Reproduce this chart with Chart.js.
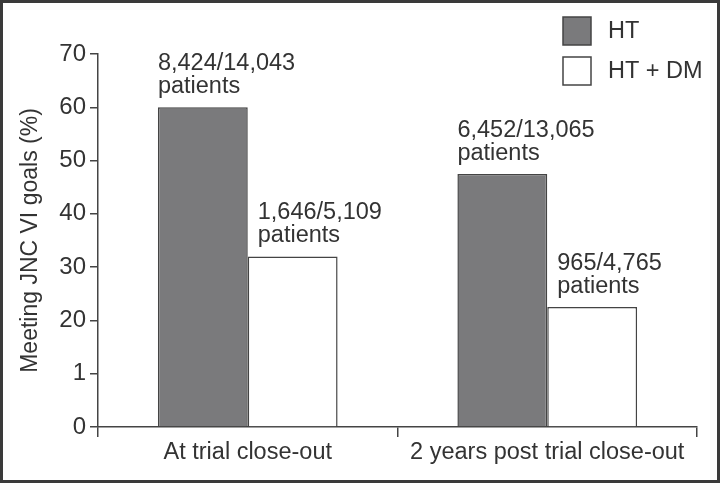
<!DOCTYPE html>
<html>
<head>
<meta charset="utf-8">
<script src="https://cdn.jsdelivr.net/npm/chart.js"></script>
<style>
  html, body { margin: 0; padding: 0; background: #fff; }
  #wrap { width: 720px; height: 483px; position: relative; }
</style>
</head>
<body>
<div id="wrap"><canvas id="myChart" width="720" height="483"></canvas></div>
<script>
// chart data
var categories = ["At trial close-out", "2 years post trial close-out"];
var seriesNames = ["HT", "HT + DM"];
var htValues = [60, 47.5];
var htdmValues = [32, 22.5];
var htLabels = ["8,424/14,043", "6,452/13,065"];
var htdmLabels = ["1,646/5,109", "965/4,765"];
var yTickLabels = ["0", "1", "20", "30", "40", "50", "60", "70"];

var FONT = "'Liberation Sans', Arial, Helvetica, sans-serif";
var textColor = "#333333";
var greyFill = "#7a7a7c";
var lineColor = "#444";

// frame, legend and bar notes
var extrasPlugin = {
  id: "extras",
  beforeDraw: function (chart) {
    var ctx = chart.ctx;
    ctx.save();
    ctx.fillStyle = "#fff";
    ctx.fillRect(0, 0, chart.width, chart.height);
    ctx.restore();
  },
  afterDraw: function (chart) {
    var ctx = chart.ctx;
    ctx.save();

    // labels above bars
    ctx.font = "23.5px " + FONT;
    ctx.fillStyle = textColor;
    ctx.textAlign = "left";
    ctx.textBaseline = "alphabetic";
    var noteSets = [htLabels, htdmLabels];
    var indents = [0, 10];
    chart.data.datasets.forEach(function (ds, di) {
      var meta = chart.getDatasetMeta(di);
      meta.data.forEach(function (bar, i) {
        var x = bar.x - bar.width / 2 + indents[di];
        var base = bar.y - 14;
        ctx.fillText("patients", x, base);
        ctx.fillText(noteSets[di][i], x, base - 23);
      });
    });

    // legend
    var lx = 563, ly = 17, box = 28;
    chart.data.datasets.forEach(function (ds, di) {
      var y = ly + di * 40;
      ctx.fillStyle = ds.backgroundColor;
      ctx.fillRect(lx, y, box, box);
      ctx.lineWidth = 1.5;
      ctx.strokeStyle = lineColor;
      ctx.strokeRect(lx, y, box, box);
      ctx.fillStyle = textColor;
      ctx.textBaseline = "middle";
      ctx.fillText(ds.label, lx + 45, y + box / 2 + 1);
    });

    // outer frame
    ctx.lineWidth = 4;
    ctx.strokeStyle = "#3a3a3a";
    ctx.strokeRect(1, 1, chart.width - 2, chart.height - 2);
    ctx.restore();
  }
};

new Chart("myChart", {
  type: "bar",
  data: {
    labels: categories,
    datasets: [{
      label: seriesNames[0],
      data: htValues,
      backgroundColor: greyFill,
      borderColor: lineColor,
      borderWidth: 1.5,
      categoryPercentage: 0.6,
      barPercentage: 1.0
    }, {
      label: seriesNames[1],
      data: htdmValues,
      backgroundColor: "#ffffff",
      borderColor: lineColor,
      borderWidth: 1.5,
      categoryPercentage: 0.6,
      barPercentage: 1.0
    }]
  },
  options: {
    responsive: false,
    animation: false,
    layout: { padding: { top: 54, right: 23, left: 0, bottom: 0 } },
    plugins: {
      legend: { display: false },
      tooltip: { enabled: false }
    },
    scales: {
      x: {
        afterFit: function (scale) { scale.height = 56; },
        grid: { drawOnChartArea: false, offset: true, tickLength: 10, color: lineColor, lineWidth: 1.5 },
        border: { color: lineColor, width: 1.5 },
        ticks: { color: textColor, font: { family: FONT, size: 23.5 }, padding: 1, maxRotation: 0 }
      },
      y: {
        min: 0,
        max: 70,
        afterFit: function (scale) { scale.width = 98; },
        grid: { drawOnChartArea: false, tickLength: 8, color: lineColor, lineWidth: 1.5 },
        border: { color: lineColor, width: 1.5 },
        ticks: {
          stepSize: 10,
          color: textColor,
          font: { family: FONT, size: 24 },
          padding: 4,
          callback: function (value, index) { return yTickLabels[index]; }
        },
        title: {
          display: true,
          text: "Meeting JNC VI goals (%)",
          color: textColor,
          font: { family: FONT, size: 23 },
          padding: { top: 17, bottom: 0 }
        }
      }
    }
  },
  plugins: [extrasPlugin]
});
</script>
</body>
</html>
